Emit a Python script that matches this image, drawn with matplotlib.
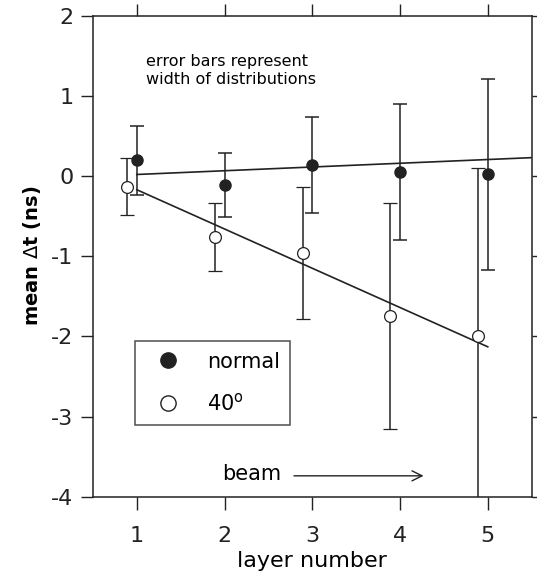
import matplotlib
matplotlib.use("Agg")
import matplotlib.pyplot as plt

plt.rcParams["axes.unicode_minus"] = False

# layer number vs mean delta-t
layers_normal = [1, 2, 3, 4, 5]
dt_normal = [0.20, -0.11, 0.14, 0.05, 0.02]
err_normal = [0.43, 0.40, 0.60, 0.85, 1.19]

layers_40 = [0.89, 1.89, 2.90, 3.89, 4.89]
dt_40 = [-0.13, -0.76, -0.96, -1.75, -2.00]
err_40 = [0.36, 0.43, 0.82, 1.41, 2.10]

# straight-line fits drawn through the data
fit_normal_x = [1.0, 5.5]
fit_normal_y = [0.02, 0.23]
fit_40_x = [1.0, 5.0]
fit_40_y = [-0.17, -2.13]

xticks = [1, 2, 3, 4, 5]
yticks = [-4, -3, -2, -1, 0, 1, 2]

ink = "#222222"

fig = plt.figure(figsize=(5.37, 5.85), dpi=100)
ax = fig.add_axes([0.173, 0.151, 0.817, 0.822])

ax.plot(fit_normal_x, fit_normal_y, color=ink, lw=1.2)
ax.plot(fit_40_x, fit_40_y, color=ink, lw=1.2)

ax.errorbar(layers_normal, dt_normal, yerr=err_normal, fmt="o", ms=8,
            color=ink, mfc=ink, mec=ink, ecolor=ink, elinewidth=1.1,
            capsize=5, capthick=1.1, zorder=3)
ax.errorbar(layers_40, dt_40, yerr=err_40, fmt="o", ms=8.5,
            color=ink, mfc="white", mec=ink, mew=0.9, ecolor=ink,
            elinewidth=1.1, capsize=5, capthick=1.1, zorder=3)

ax.set_xlim(0.5, 5.5)
ax.set_ylim(-4, 2)
ax.set_xticks(xticks)
ax.set_yticks(yticks)
ax.tick_params(direction="out", length=9, width=1, labelsize=16,
               top=True, right=True, colors=ink)
ax.tick_params(axis="x", pad=12)
ax.tick_params(axis="y", pad=5)
for s in ax.spines.values():
    s.set_linewidth(1.1)
    s.set_color(ink)

ax.set_xlabel("layer number", fontsize=16, labelpad=4)
ax.set_ylabel("mean $\\Delta$t (ns)", fontsize=14, fontweight="bold", labelpad=6)

ax.text(1.11, 1.52, "error bars represent\nwidth of distributions",
        fontsize=11.5, va="top", ha="left", linespacing=1.25)

# legend
leg = ax.legend(
    [plt.Line2D([], [], ls="none", marker="o", ms=11, mfc=ink, mec=ink),
     plt.Line2D([], [], ls="none", marker="o", ms=11, mfc="white", mec=ink)],
    ["normal", "40$^{\\mathrm{o}}$"],
    loc="lower left", bbox_to_anchor=(0.096, 0.149), fontsize=15,
    frameon=True, fancybox=False, handletextpad=0.75, labelspacing=1.0,
    borderpad=0.5, handlelength=2.2, borderaxespad=0)
leg.get_frame().set_edgecolor(ink)
leg.get_frame().set_linewidth(1.1)

ax.text(2.65, -3.72, "beam", fontsize=15, ha="right", va="center")
ax.annotate("", xy=(4.3, -3.74), xytext=(2.76, -3.74),
            arrowprops=dict(arrowstyle="->", color=ink, lw=1.0,
                            mutation_scale=18))

fig.savefig("out.png", dpi=100)
